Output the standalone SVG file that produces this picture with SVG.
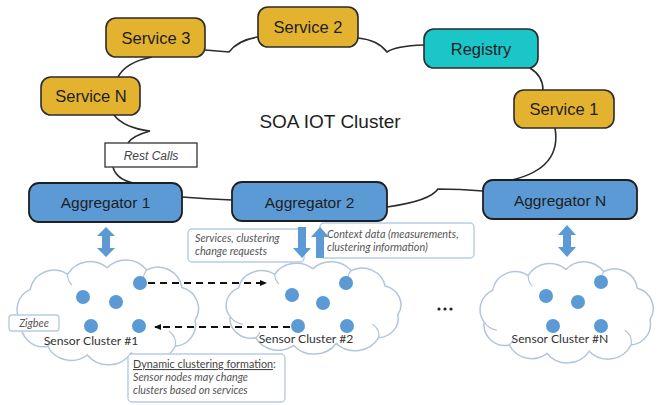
<svg xmlns="http://www.w3.org/2000/svg" xmlns:xlink="http://www.w3.org/1999/xlink" width="657" height="405" viewBox="0 0 657 405">
<defs>
<style>
.svc{fill:#E3B22F;stroke:#2b2b2b;stroke-width:1.6}
.reg{fill:#1BC6C9;stroke:#2b2b2b;stroke-width:1.6}
.agg{fill:#5B9AD5;stroke:#1f1f1f;stroke-width:1.8}
.t1{font-family:"Liberation Sans",Arial,sans-serif;fill:#1e1e1e;text-anchor:middle}
.conn{fill:none;stroke:#2b2b2b;stroke-width:1.6}
.cloud{fill:#fff;stroke:#B3C5DC;stroke-width:1.5}
.inner{fill:none;stroke:#B3C5DC;stroke-width:1.2}
.dot{fill:#5B9AD5}
.lbl{font-family:Lato,"Open Sans",sans-serif;fill:#333;font-size:12.2px;text-anchor:middle}
.note{font-family:Lato,"Open Sans",sans-serif;fill:#555;font-size:10.8px;font-style:italic}
.box{fill:#fff;stroke:#B8CBE4;stroke-width:1.4}
.dash{fill:none;stroke:#111;stroke-width:1.8;stroke-dasharray:7 5}
.barrow{fill:#5B9AD5}
</style>
<g id="cloudShape">
<path vector-effect="non-scaling-stroke" d="M10,62 A20,20 0 0 1 18,32 A22,22 0 0 1 52,18 A24,24 0 0 1 88,12 A24,24 0 0 1 124,14 A22,22 0 0 1 156,30 A20,20 0 0 1 168,60 A20,20 0 0 1 150,84 A25,25 0 0 1 110,90 A25,25 0 0 1 70,92 A24,24 0 0 1 34,84 A20,20 0 0 1 10,62 Z"/>
<path class="inner" vector-effect="non-scaling-stroke" d="M10,62 A18,18 0 0 0 22,70 M150,84 A14,14 0 0 0 144,70 M52,18 A14,14 0 0 0 56,28 M124,14 A14,14 0 0 0 121,23 M34,84 A12,12 0 0 0 38,78"/>
</g>
<marker id="ah" markerWidth="8" markerHeight="8" refX="6" refY="4" orient="auto" markerUnits="userSpaceOnUse">
<path d="M0,1 L7,4 L0,7 Z" fill="#111"/>
</marker>
</defs>

<g id="connectors">
<path class="conn" d="M114,115 Q124,128 150,131 Q132,136 128,143"/>
<path class="conn" d="M113,167 Q116,179 133,183"/>
<path class="conn" d="M118,77 Q126,62 152,57"/>
<path class="conn" d="M205,50 L229,52 Q238,40 258,37"/>
<path class="conn" d="M358,38 Q378,40 387,52 Q395,46 424,45"/>
<path class="conn" d="M530,68 Q543,76 543,90"/>
<path class="conn" d="M555,128 Q562,168 512,180"/>
<path class="conn" d="M483,191 Q460,189 438,189 Q430,201 387,207"/>
<path class="conn" d="M182,197 Q207,199 232,200"/>
</g>

<text class="t1" x="330" y="128" font-size="19">SOA IOT Cluster</text>

<g id="service3"><rect class="svc" x="106" y="18" width="99" height="39" rx="10"/><text class="t1" x="156" y="43.5" font-size="16.5">Service 3</text></g>
<g id="service2"><rect class="svc" x="258" y="7" width="100" height="40" rx="10"/><text class="t1" x="308" y="33" font-size="16.5">Service 2</text></g>
<g id="serviceN"><rect class="svc" x="41" y="77" width="99" height="38" rx="10"/><text class="t1" x="91" y="102" font-size="16.5">Service N</text></g>
<g id="registry"><rect class="reg" x="424" y="29" width="114" height="39" rx="10"/><text class="t1" x="481" y="54.5" font-size="16.5">Registry</text></g>
<g id="service1"><rect class="svc" x="514" y="90" width="100" height="38" rx="10"/><text class="t1" x="564" y="115" font-size="16.5">Service 1</text></g>
<g id="restcalls"><rect x="105" y="143" width="92" height="24" fill="#fff" stroke="#333" stroke-width="1.3"/><text x="151" y="159.5" font-family="Liberation Sans,Arial,sans-serif" font-style="italic" font-size="12" fill="#444" text-anchor="middle">Rest Calls</text></g>

<g id="aggregator1"><rect class="agg" x="29" y="183" width="153" height="39" rx="10"/><text class="t1" x="105.5" y="208" font-size="15.5">Aggregator 1</text></g>
<g id="aggregator2"><rect class="agg" x="232" y="182" width="155" height="39" rx="10"/><text class="t1" x="309.5" y="207.5" font-size="15.5">Aggregator 2</text></g>
<g id="aggregatorN"><rect class="agg" x="483" y="180" width="154" height="39" rx="10"/><text class="t1" x="560" y="205.5" font-size="15.5">Aggregator N</text></g>

<g id="cluster1">
<use xlink:href="#cloudShape" class="cloud" transform="translate(10.3,254.7) scale(1.1,1.09)"/>
<circle class="dot" cx="140" cy="283" r="7"/>
<circle class="dot" cx="83" cy="297" r="7"/>
<circle class="dot" cx="116" cy="302" r="7"/>
<circle class="dot" cx="91" cy="326" r="7"/>
<circle class="dot" cx="139" cy="326" r="7"/>
<text class="lbl" x="91" y="345">Sensor Cluster #1</text>
</g>
<g id="cluster2">
<use xlink:href="#cloudShape" class="cloud" transform="translate(219.6,257.1) scale(1.06,0.96)"/>
<circle class="dot" cx="346" cy="283" r="7"/>
<circle class="dot" cx="292" cy="295" r="7"/>
<circle class="dot" cx="323" cy="303" r="7"/>
<circle class="dot" cx="298" cy="326" r="7"/>
<circle class="dot" cx="347" cy="326" r="7"/>
<text class="lbl" x="306" y="343">Sensor Cluster #2</text>
</g>
<g id="clusterN">
<use xlink:href="#cloudShape" class="cloud" transform="translate(473.6,256.8) scale(1.05,1.05)"/>
<circle class="dot" cx="601" cy="282" r="7"/>
<circle class="dot" cx="546" cy="296" r="7"/>
<circle class="dot" cx="578" cy="302" r="7"/>
<circle class="dot" cx="553" cy="326" r="7"/>
<circle class="dot" cx="601" cy="326" r="7"/>
<text class="lbl" x="560" y="343">Sensor Cluster #N</text>
</g>

<g id="ellipsis" fill="#222"><circle cx="439" cy="309" r="1.6"/><circle cx="445" cy="309" r="1.6"/><circle cx="451" cy="309" r="1.6"/></g>

<g id="zigbee"><rect class="box" x="9" y="315" width="50" height="16" rx="3"/><text class="note" x="34" y="326.5" text-anchor="middle">Zigbee</text></g>

<g id="sensor-arrows">
<path class="dash" d="M148,283 L266,283" marker-end="url(#ah)"/>
<path class="dash" d="M290,327 L155,327" marker-end="url(#ah)"/>
</g>

<g id="services-note"><rect class="box" x="188" y="229" width="116" height="33" rx="4"/>
<text class="note"><tspan x="195" y="242">Services, clustering</tspan><tspan x="195" y="255">change requests</tspan></text></g>
<g id="context-note"><rect class="box" x="320" y="223" width="154" height="35" rx="4"/>
<text class="note"><tspan x="327" y="238">Context data (measurements,</tspan><tspan x="327" y="251">clustering information)</tspan></text></g>

<g id="agg-arrows">
<polygon class="barrow" points="106,227 115,236 110,236 110,248 115,248 106,257 97,248 102,248 102,236 97,236"/>
<polygon class="barrow" points="567,225 576,235 571,235 571,247 576,247 567,257 558,247 563,247 563,235 558,235"/>
<polygon class="barrow" points="298,227 306,227 306,248 311,248 302,258 293,248 298,248"/>
<polygon class="barrow" points="320,227 329,237 324,237 324,258 316,258 316,237 311,237"/>
</g>

<g id="dynamic-note"><rect class="box" x="128" y="354" width="157" height="48" rx="4"/>
<text x="133" y="368" font-family="Lato,'Open Sans',sans-serif" font-size="10.8" fill="#444"><tspan text-decoration="underline">Dynamic clustering formation</tspan>:</text>
<text class="note"><tspan x="133" y="381">Sensor nodes may change</tspan><tspan x="133" y="394">clusters based on services</tspan></text></g>
</svg>
